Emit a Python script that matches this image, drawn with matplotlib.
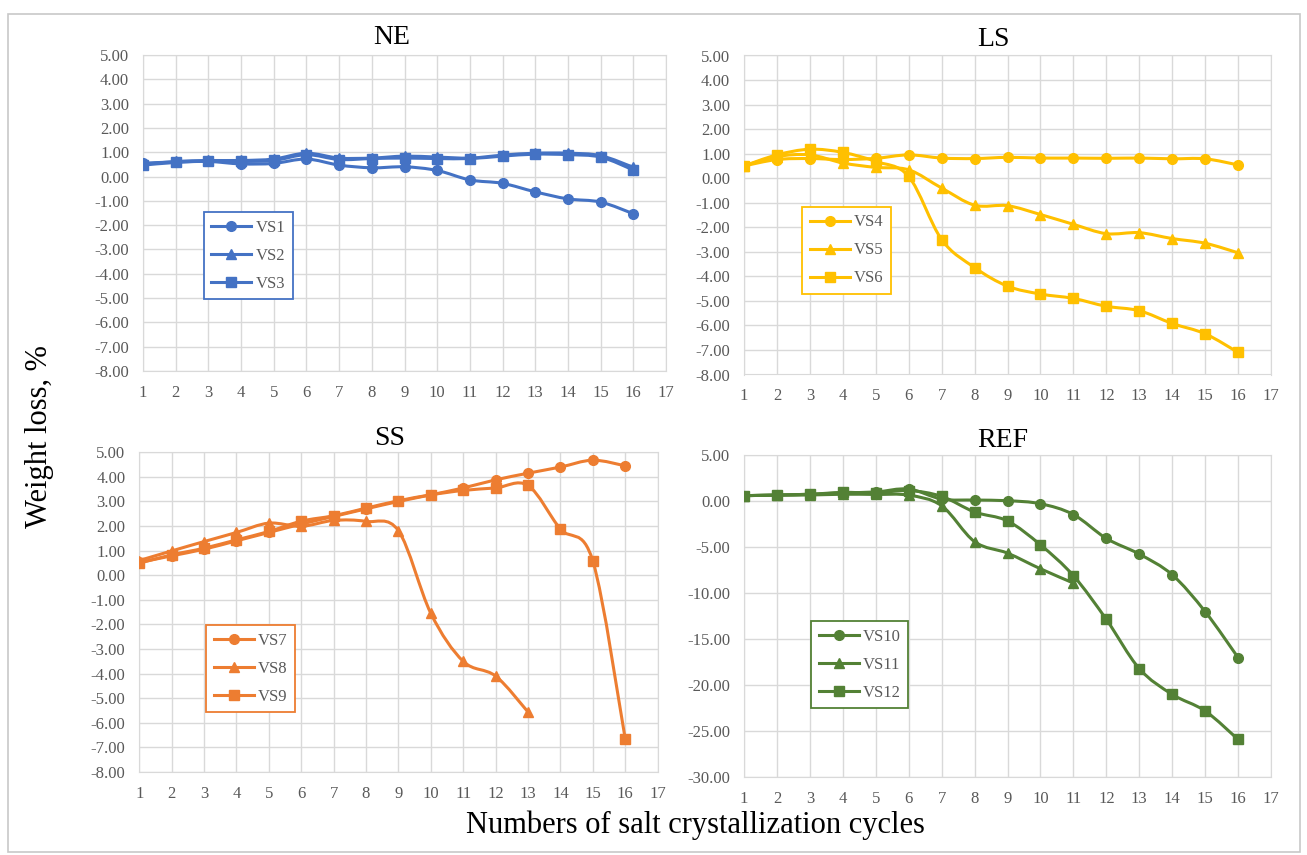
import numpy as np
import matplotlib
matplotlib.use('Agg')
import matplotlib.pyplot as plt
import matplotlib.ticker as mticker
from matplotlib.path import Path
from matplotlib.patches import PathPatch, Rectangle
from matplotlib.lines import Line2D

plt.rcParams['font.family'] = ['Liberation Serif', 'DejaVu Serif']

# weight loss (%) per salt crystallization cycle
cycles = list(range(1, 17))

vs1 = [0.55, 0.60, 0.62, 0.52, 0.54, 0.72, 0.47, 0.36, 0.40, 0.25, -0.14, -0.28, -0.63, -0.92, -1.05, -1.53]
vs2 = [0.50, 0.62, 0.66, 0.66, 0.72, 0.96, 0.76, 0.76, 0.84, 0.80, 0.76, 0.88, 0.96, 0.96, 0.86, 0.38]
vs3 = [0.47, 0.58, 0.63, 0.62, 0.66, 0.90, 0.70, 0.74, 0.76, 0.74, 0.74, 0.84, 0.92, 0.90, 0.80, 0.27]

vs4 = [0.50, 0.76, 0.80, 0.76, 0.81, 0.95, 0.82, 0.80, 0.85, 0.82, 0.82, 0.81, 0.82, 0.79, 0.79, 0.54]
vs5 = [0.50, 0.88, 0.95, 0.62, 0.44, 0.34, -0.40, -1.10, -1.12, -1.48, -1.88, -2.26, -2.22, -2.46, -2.65, -3.04]
vs6 = [0.50, 0.95, 1.18, 1.05, 0.68, 0.07, -2.50, -3.64, -4.40, -4.72, -4.90, -5.22, -5.40, -5.92, -6.34, -7.10]

vs7 = [0.52, 0.79, 1.06, 1.40, 1.74, 2.08, 2.39, 2.70, 3.00, 3.27, 3.55, 3.88, 4.15, 4.40, 4.68, 4.45]
vs8 = [0.60, 0.99, 1.37, 1.74, 2.12, 1.99, 2.23, 2.19, 1.81, -1.55, -3.50, -4.10, -5.56]
vs9 = [0.49, 0.83, 1.10, 1.44, 1.78, 2.20, 2.42, 2.73, 3.03, 3.27, 3.45, 3.55, 3.65, 1.88, 0.58, -6.65]

vs10 = [0.55, 0.62, 0.70, 0.85, 0.95, 1.27, 0.18, 0.07, 0.00, -0.33, -1.50, -4.10, -5.80, -8.05, -12.05, -17.05]
vs11 = [0.55, 0.60, 0.62, 0.70, 0.68, 0.60, -0.55, -4.45, -5.70, -7.40, -8.95]
vs12 = [0.54, 0.62, 0.70, 0.90, 0.85, 1.10, 0.47, -1.23, -2.20, -4.80, -8.15, -12.90, -18.25, -21.05, -22.85, -25.95]

panels = [
    # title, series, colour, y range, y step, axes box (px), title xy, legend top-left
    ('NE', [('VS1', vs1), ('VS2', vs2), ('VS3', vs3)], '#4472C4', (-8, 5), 1,
     [143, 55, 666, 371], (392, 37), (204, 212)),
    ('LS', [('VS4', vs4), ('VS5', vs5), ('VS6', vs6)], '#FFC000', (-8, 5), 1,
     [744, 55.5, 1271, 374.5], (993, 40), (802, 207)),
    ('SS', [('VS7', vs7), ('VS8', vs8), ('VS9', vs9)], '#ED7D31', (-8, 5), 1,
     [139.3, 452.3, 657.6, 772], (390, 438), (206, 625)),
    ('REF', [('VS10', vs10), ('VS11', vs11), ('VS12', vs12)], '#538135', (-30, 5), 5,
     [744, 454.7, 1271, 776.7], (1003, 440), (811, 621)),
]
markers = ['o', '^', 's']

W, H = 1307, 855
fig = plt.figure(figsize=(W / 100, H / 100), dpi=100)

# light frame round the whole figure
fig.patches.append(Rectangle((8 / W, 1 - 852 / H), 1292 / W, 838 / H, transform=fig.transFigure,
                             fill=False, edgecolor='#C8C8C8', lw=1.2))


def smooth_path(xs, ys):
    # cubic bezier through the points, like a smoothed spreadsheet line
    pts = np.column_stack([xs, ys]).astype(float)
    n = len(pts)
    verts = [pts[0]]
    codes = [Path.MOVETO]
    for i in range(n - 1):
        p0 = pts[i - 1] if i > 0 else pts[i]
        p1 = pts[i]
        p2 = pts[i + 1]
        p3 = pts[i + 2] if i + 2 < n else pts[i + 1]
        verts += [p1 + (p2 - p0) / 6, p2 - (p3 - p1) / 6, p2]
        codes += [Path.CURVE4] * 3
    return Path(verts, codes)


for title, series, color, (ymin, ymax), ystep, (x0, y0, x1, y1), (tx, ty), (lx, ly) in panels:
    ax = fig.add_axes([x0 / W, 1 - y1 / H, (x1 - x0) / W, (y1 - y0) / H])
    handles = []
    for (name, vals), mk in zip(series, markers):
        xs = cycles[:len(vals)]
        ax.add_patch(PathPatch(smooth_path(xs, vals), fill=False, edgecolor=color, lw=2.2,
                               capstyle='round', joinstyle='round', zorder=3))
        ax.plot(xs, vals, linestyle='none', marker=mk, ms=7, color=color, zorder=4)
        handles.append(Line2D([], [], color=color, lw=2.2, marker=mk, ms=7, label=name))

    ax.set_xlim(1, 17)
    ax.set_ylim(ymin, ymax)
    ax.set_xticks(range(1, 18))
    ax.set_yticks(np.arange(ymin, ymax + ystep / 2, ystep))
    ax.yaxis.set_major_formatter(mticker.FormatStrFormatter('%.2f'))
    ax.grid(True, color='#D9D9D9', lw=1)
    ax.set_axisbelow(True)
    for sp in ax.spines.values():
        sp.set_color('#D9D9D9')
    ax.tick_params(length=0, labelsize=12, labelcolor='#595959', pad=10)

    fig.text(tx / W, 1 - ty / H, title, ha='center', va='center', fontsize=20, color='black')

    leg = ax.legend(handles=handles, loc='upper left', bbox_to_anchor=(lx / W, 1 - ly / H),
                    bbox_transform=fig.transFigure, borderaxespad=0, fancybox=False,
                    framealpha=1, edgecolor=color, fontsize=12, handlelength=2.4,
                    handletextpad=0.25, labelspacing=0.72, borderpad=0.45)
    leg.get_frame().set_linewidth(1.3)
    for t in leg.get_texts():
        t.set_color('#595959')

fig.text(40 / W, 1 - 437 / H, 'Weight loss, %', rotation=90, ha='center', va='center', fontsize=22)
fig.text(695 / W, 1 - 825 / H, 'Numbers of salt crystallization cycles', ha='center', va='center',
         fontsize=22)

fig.savefig('out.png', dpi=100)
